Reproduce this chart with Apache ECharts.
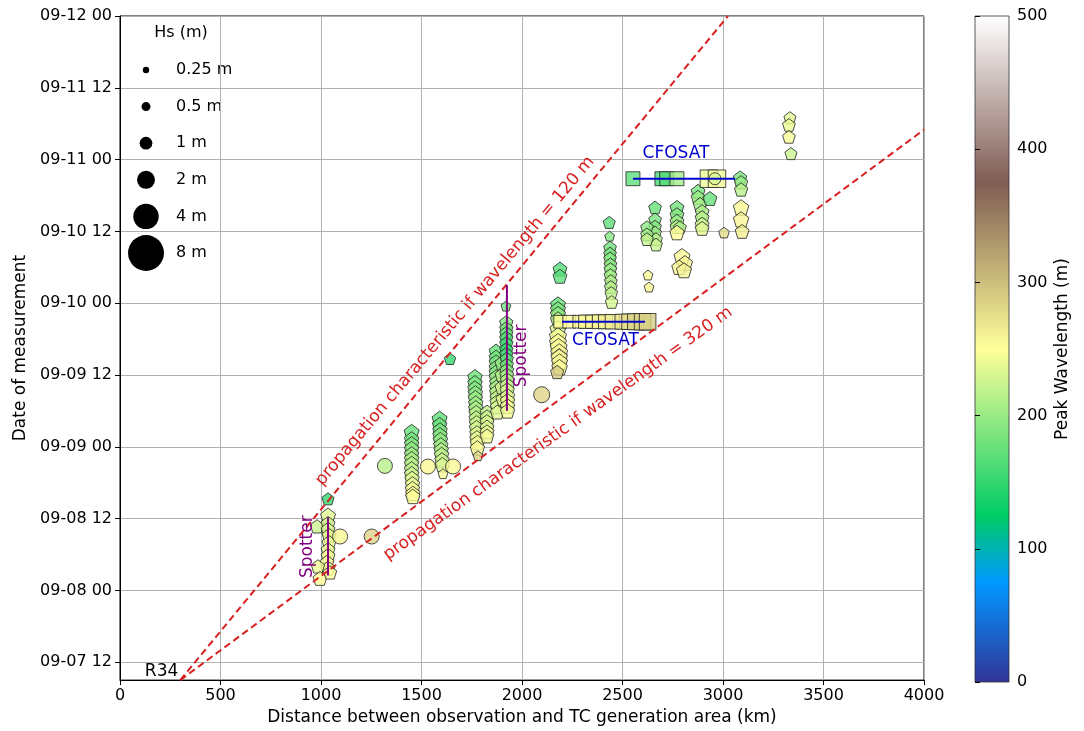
<!DOCTYPE html>
<html>
<head>
<meta charset="utf-8">
<script src="https://cdn.jsdelivr.net/npm/echarts@6/dist/echarts.min.js"></script>
<style>
html, body { margin: 0; padding: 0; background: #fff; }
#main { width: 1084px; height: 731px; }
</style>
</head>
<body>
<div id="main"></div>
<script>
// time is in hours counted from 09-07 00:00
var yTicks = [12, 24, 36, 48, 60, 72, 84, 96, 108, 120];
var hsLegend = [0.25, 0.5, 1, 2, 4, 8];

// rows: distance (km), time (h), Hs (m), peak wavelength (m)
var altimeter = [
  [1035,39.3,0.9,150],[1035,36.5,1.4,235],[980,34.7,1.1,225],[1035,35.2,1.2,230],[1035,34.2,1.2,235],
  [1040,33.2,1.2,240],[1040,32.0,1.2,240],[1035,30.8,1.2,245],[1035,29.8,1.2,245],[1030,28.7,1.2,248],
  [1035,27.7,1.2,250],[985,28.0,1.1,240],[995,26.0,1.2,250],[1045,27.0,1.1,252],

  [1451,50.5,1.4,175],[1451,49.3,1.3,182],[1451,48.5,1.3,190],[1451,47.7,1.3,197],[1451,46.8,1.3,203],
  [1451,46.0,1.3,210],[1451,45.2,1.3,215],[1451,44.3,1.3,222],[1451,43.5,1.3,228],[1453,42.7,1.3,235],
  [1455,41.8,1.3,240],[1455,41.0,1.3,245],[1457,40.2,1.3,250],[1457,39.7,1.3,252],

  [1590,52.7,1.4,170],[1590,51.7,1.3,178],[1592,50.8,1.3,185],[1592,50.0,1.3,192],[1594,49.2,1.3,198],
  [1596,48.3,1.3,205],[1598,47.5,1.3,212],[1600,46.7,1.3,218],[1602,45.8,1.3,225],[1604,45.0,1.3,232],
  [1607,43.5,0.6,255],[1642,62.7,0.8,150],

  [1766,59.7,1.3,180],[1766,58.7,1.3,185],[1766,57.8,1.3,190],[1768,57.0,1.3,195],[1768,56.2,1.3,200],
  [1770,55.3,1.3,205],[1770,54.5,1.3,210],[1772,53.7,1.3,215],[1772,52.8,1.3,220],[1774,52.0,1.3,225],
  [1774,51.2,1.3,230],[1776,50.3,1.3,235],[1776,49.5,1.3,240],[1778,48.7,1.3,245],[1778,47.8,1.3,250],
  [1781,46.5,0.6,285],
  [1826,53.8,1.2,220],[1826,53.0,1.2,225],[1826,52.2,1.2,230],[1826,51.3,1.2,235],[1826,50.5,1.2,240],[1826,49.8,1.2,245],

  [1871,64.0,1.2,175],[1871,63.0,1.2,180],[1871,62.2,1.2,185],[1871,61.3,1.2,190],[1871,60.5,1.2,195],
  [1871,59.7,1.2,200],[1873,58.8,1.2,205],[1873,58.0,1.2,210],[1873,57.2,1.2,215],[1875,56.3,1.2,220],
  [1875,55.5,1.2,225],[1877,54.7,1.2,230],[1877,53.8,1.2,235],
  [1900,62.0,1.2,200],[1900,60.0,1.2,215],[1900,58.0,1.2,230],[1905,56.0,1.2,240],

  [1920,71.5,0.6,180],[1922,68.8,1.1,190],[1922,67.8,1.1,185],[1922,67.0,1.1,175],[1922,66.2,1.1,165],
  [1922,65.3,1.1,155],[1922,64.3,1.1,150],[1922,63.5,1.1,160],[1924,62.7,1.1,170],[1924,61.7,1.1,180],
  [1924,60.8,1.2,195],[1924,60.0,1.2,205],[1926,59.2,1.2,215],[1926,58.3,1.3,225],[1926,57.5,1.3,230],
  [1928,56.5,1.3,235],[1928,55.7,1.3,240],[1928,54.8,1.3,245],[1928,54.0,1.3,245],

  [2179,71.8,1.4,175],[2179,71.0,1.4,185],[2179,70.2,1.4,195],[2179,69.3,1.4,215],[2179,67.7,1.6,235],
  [2179,66.5,1.8,245],[2179,65.5,1.8,250],[2182,64.7,1.8,252],[2185,63.8,1.8,254],[2185,63.0,1.7,255],
  [2187,62.2,1.6,255],[2187,61.3,1.5,252],[2175,60.5,1.1,290],
  [2189,77.7,1.2,165],[2189,76.5,1.2,170],

  [2434,85.5,0.9,170],[2436,83.2,0.6,190],[2438,81.3,1.0,180],[2438,80.3,1.0,185],[2438,79.5,1.0,190],
  [2440,78.5,1.0,195],[2440,77.7,1.0,200],[2440,76.7,1.0,205],[2442,75.7,1.0,210],[2442,74.7,1.0,215],
  [2444,73.7,1.0,220],[2446,72.2,1.0,230],

  [2627,76.7,0.6,255],[2632,74.7,0.6,255],
  [2662,88.0,1.0,175],[2662,86.0,1.0,185],[2662,84.8,1.0,190],[2662,83.8,1.0,200],[2667,82.7,1.0,215],[2667,81.8,1.0,225],
  [2622,84.7,1.0,195],[2622,83.5,1.0,205],[2622,82.7,1.0,220],
  [2771,88.0,1.2,180],[2771,86.8,1.2,190],[2771,85.7,1.2,200],[2771,84.8,1.2,215],[2786,84.7,1.0,210],[2771,83.8,1.3,250],
  [2796,79.8,1.6,255],[2811,78.7,1.4,258],[2781,78.0,1.3,255],[2806,77.5,1.4,260],
  [2876,90.7,1.2,185],[2876,89.7,1.2,200],[2886,88.5,1.2,205],[2896,87.3,1.2,210],[2896,86.3,1.2,215],
  [2896,85.2,1.2,225],[2896,84.5,1.2,235],
  [2935,89.5,1.2,175],
  [3085,93.0,1.1,185],[3090,92.2,1.1,200],[3090,91.0,1.1,215],[3090,88.0,1.5,255],[3090,86.0,1.5,258],[3095,84.0,1.2,262],
  [3005,83.8,0.7,275],
  [3333,103.0,0.9,235],[3328,101.8,1.0,240],[3328,99.8,1.0,245],[3338,97.0,0.9,225]
];

var cfosat = [
  [2190,68.9,1.0,250],[2235,68.9,1.0,252],[2285,68.9,1.0,255],[2315,68.9,1.1,255],[2350,68.9,1.1,258],
  [2385,68.9,1.2,260],[2415,68.9,1.2,262],[2450,68.9,1.3,265],[2500,68.9,1.4,272],[2535,68.9,1.5,278],
  [2565,68.9,1.6,282],[2600,68.9,1.7,285],[2625,68.9,1.7,288],
  [2552,92.8,1.2,170],[2696,92.8,1.2,160],[2720,92.8,1.2,165],[2771,92.8,1.2,205],[2930,92.8,1.9,240],[2970,92.8,1.9,245]
];

var buoys = [
  [1095,33.0,1.4,255],[1252,33.0,1.4,282],[1318,44.8,1.4,215],[1532,44.7,1.4,255],[1657,44.7,1.4,255],
  [2098,56.7,1.6,282],[2960,92.8,0.9,230]
];

var line120 = [[300, 9], [3025, 120]];
var line320 = [[300, 9], [4000, 101]];
var spotterA = [[1035, 26.5], [1035, 36.2]];
var spotterB = [[1925, 54], [1925, 75]];
var cfosatA = [[2199, 68.9], [2612, 68.9]];
var cfosatB = [[2552, 92.8], [3060, 92.8]];

var FONT = 'DejaVu Sans';
var RED = '#d82020';
var PURPLE = '#800080';
var BLUE = '#0000d0';

// matplotlib "terrain" colormap
var terrainStops = [[0, [51,51,153]], [0.15, [0,153,255]], [0.25, [0,204,102]],
                    [0.5, [255,255,153]], [0.75, [128,92,84]], [1, [255,255,255]]];
function terrainAt(t) {
  for (var i = 1; i < terrainStops.length; i++) {
    var a = terrainStops[i - 1], b = terrainStops[i];
    if (t <= b[0]) {
      var f = (t - a[0]) / (b[0] - a[0]);
      var c = a[1].map(function (v, k) { return Math.round(v + (b[1][k] - v) * f); });
      return 'rgb(' + c.join(',') + ')';
    }
  }
  return 'rgb(255,255,255)';
}
var terrainColors = [];
for (var i = 0; i <= 50; i++) terrainColors.push(terrainAt(i / 50));
var barStops = terrainStops.map(function (s) {
  return { offset: 1 - s[0], color: 'rgb(' + s[1].join(',') + ')' };
}).reverse();

function pad(n) { return (n < 10 ? '0' : '') + n; }
function timeLabel(h) {
  return '09-' + pad(7 + Math.floor(h / 24)) + ' ' + pad(h % 24);
}
function hsSize(v) { return 12.7 * Math.sqrt(v[2]); }

var pentagon = 'path://M0,-1L0.951,-0.309L0.588,0.809L-0.588,0.809L-0.951,-0.309Z';
var edge = { borderColor: '#222', borderWidth: 1 };

var legendGraphics = [{
  type: 'text', x: 181, y: 33,
  style: { text: 'Hs (m)', fontSize: 16, fontFamily: FONT, fill: '#000', align: 'center', verticalAlign: 'middle' }
}];
hsLegend.forEach(function (hs, i) {
  var cy = 70 + i * 36.6;
  legendGraphics.push({ type: 'circle', shape: { cx: 146, cy: cy, r: 6.35 * Math.sqrt(hs) }, style: { fill: '#000' } });
  legendGraphics.push({
    type: 'text', x: 176, y: cy,
    style: { text: hs + ' m', fontSize: 16, fontFamily: FONT, fill: '#000', verticalAlign: 'middle' }
  });
});
legendGraphics.push({
  type: 'rect', shape: { x: 975, y: 16, width: 34, height: 666 },
  style: { fill: new echarts.graphic.LinearGradient(0, 0, 0, 1, barStops), stroke: '#333', lineWidth: 0.8 }
});

function annot(x, y, text, color, rotate, pos) {
  return {
    value: [x, y],
    label: { formatter: text, color: color, rotate: rotate, position: pos || 'inside' }
  };
}

var myChart = echarts.init(document.getElementById('main'));
var option = {
  animation: false,
  textStyle: { fontFamily: FONT },
  grid: [
    { left: 120, top: 16, width: 804, height: 666, show: true, borderColor: '#000', borderWidth: 1 },
    { left: 975, top: 16, width: 34, height: 666 }
  ],
  xAxis: [{
    type: 'value', min: 0, max: 4000, interval: 500,
    name: 'Distance between observation and TC generation area (km)',
    nameLocation: 'middle', nameGap: 28,
    nameTextStyle: { fontSize: 17, color: '#000', fontFamily: FONT },
    axisLine: { lineStyle: { color: '#000' } },
    axisTick: { length: 5, lineStyle: { color: '#000' } },
    axisLabel: { fontSize: 16, color: '#000', margin: 8, fontFamily: FONT, formatter: function (v) { return String(v); } },
    splitLine: { show: true, lineStyle: { color: '#b0b0b0', width: 1 } }
  }, {
    gridIndex: 1, type: 'value', min: 0, max: 1, show: false
  }],
  yAxis: [{
    type: 'value', min: 9, max: 120,
    name: 'Date of measurement',
    nameLocation: 'middle', nameGap: 91, nameRotate: 90,
    nameTextStyle: { fontSize: 17, color: '#000', fontFamily: FONT },
    axisLine: { show: true, lineStyle: { color: '#000' } },
    axisTick: { show: true, length: 5, customValues: yTicks, lineStyle: { color: '#000' } },
    axisLabel: { fontSize: 16, color: '#000', margin: 8, fontFamily: FONT, customValues: yTicks, formatter: timeLabel },
    splitLine: { show: true, lineStyle: { color: '#b0b0b0', width: 1 } }
  }, {
    gridIndex: 1, type: 'value', min: 0, max: 500, interval: 100, position: 'right',
    name: 'Peak Wavelength (m)', nameLocation: 'middle', nameGap: 45, nameRotate: 90,
    nameTextStyle: { fontSize: 17, color: '#000', fontFamily: FONT },
    axisLine: { show: false },
    axisTick: { show: true, length: 5, lineStyle: { color: '#000' } },
    axisLabel: { fontSize: 16, color: '#000', margin: 8, fontFamily: FONT },
    splitLine: { show: false }
  }],
  visualMap: {
    type: 'continuous', show: false, min: 0, max: 500, dimension: 3,
    seriesIndex: [0, 1, 2], inRange: { color: terrainColors }
  },
  graphic: legendGraphics,
  series: [
    { type: 'scatter', symbol: pentagon, symbolSize: hsSize, itemStyle: edge, data: altimeter, z: 3 },
    { type: 'scatter', symbol: 'rect', symbolSize: hsSize, itemStyle: edge, data: cfosat, z: 3 },
    { type: 'scatter', symbol: 'circle', symbolSize: hsSize, itemStyle: edge, data: buoys, z: 3 },
    { type: 'line', data: line120, symbol: 'none', z: 4, lineStyle: { color: RED, width: 2, type: [7, 4] } },
    { type: 'line', data: line320, symbol: 'none', z: 4, lineStyle: { color: RED, width: 2, type: [7, 4] } },
    { type: 'line', data: spotterA, symbol: 'none', z: 4, lineStyle: { color: PURPLE, width: 2 } },
    { type: 'line', data: spotterB, symbol: 'none', z: 4, lineStyle: { color: PURPLE, width: 2 } },
    { type: 'line', data: cfosatA, symbol: 'none', z: 4, lineStyle: { color: BLUE, width: 2 } },
    { type: 'line', data: cfosatB, symbol: 'none', z: 4, lineStyle: { color: BLUE, width: 2 } },
    {
      type: 'scatter', symbolSize: 0, z: 5, silent: true,
      itemStyle: { opacity: 1 },
      label: { show: true, fontSize: 17, fontFamily: FONT, distance: 0, textBorderWidth: 0, textShadowBlur: 0, opacity: 1 },
      data: [
        annot(1667, 69.0, 'propagation characteristic if wavelength = 120 m', RED, 50),
        annot(2179, 50.2, 'propagation characteristic if wavelength = 320 m', RED, 35.5),
        annot(935, 31.3, 'Spotter', PURPLE, 90),
        annot(1999, 63.2, 'Spotter', PURPLE, 90),
        annot(2415, 65.8, 'CFOSAT', BLUE, 0),
        annot(2766, 97.0, 'CFOSAT', BLUE, 0),
        annot(290, 9, 'R34', '#000', 0, 'insideBottomRight')
      ]
    }
  ]
};
myChart.setOption(option);
</script>
</body>
</html>
